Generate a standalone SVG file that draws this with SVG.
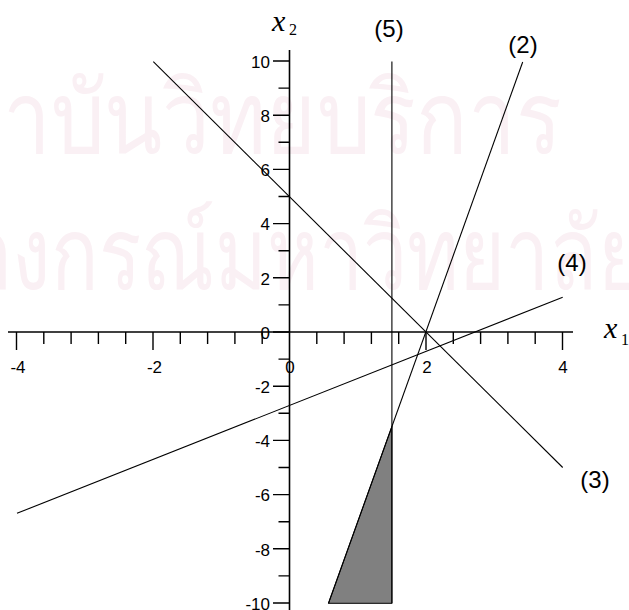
<svg xmlns="http://www.w3.org/2000/svg" width="629" height="610" viewBox="0 0 629 610">
<style>
.wm{font-family:"Noto Sans","DejaVu Sans",sans-serif;font-size:100px;fill:#faf0f4}
.ax{stroke:#000;stroke-width:1.6;fill:none}
.tk{stroke:#000;stroke-width:1.4;fill:none}
.ln{stroke:#000;stroke-width:1.1;fill:none}
.num{font-family:"Liberation Sans",Arial,sans-serif;font-size:17px;fill:#000}
.yl{text-anchor:end}
.xl{text-anchor:middle}
.cl{font-family:"Liberation Sans",Arial,sans-serif;font-size:24px;fill:#000;text-anchor:middle}
.var{font-family:"Liberation Serif","Times New Roman",serif;font-style:italic;font-size:30px;fill:#000}
.sub{font-family:"Liberation Serif","Times New Roman",serif;font-size:16px;fill:#000}
</style>
<rect width="629" height="610" fill="#fff"/>
<g id="watermark">
<text class="wm" x="-101" y="153" textLength="663" lengthAdjust="spacingAndGlyphs">สถาบันวิทยบริการ</text>
<text class="wm" x="-180" y="289" textLength="824" lengthAdjust="spacingAndGlyphs">จุฬาลงกรณ์มหาวิทยาลัย</text>
</g>
<g id="region">
<polygon points="391.9,426.5 391.9,603.3 328.5,603.3" fill="#808080" stroke="#000" stroke-width="1"/>
</g>
<g id="axes">
<line class="ax" x1="8" y1="332" x2="573" y2="332"/>
<line class="ax" x1="289.5" y1="50" x2="289.5" y2="612"/>
<path class="tk" d="M16.5,332V350M43.8,332V344M71.1,332V344M98.4,332V344M125.7,332V344M153,332V350M180.3,332V344M207.6,332V344M234.9,332V344M262.2,332V344M316.8,332V344M344.1,332V344M371.4,332V344M398.7,332V344M426,332V350M453.3,332V344M480.6,332V344M507.9,332V344M535.2,332V344M562.5,332V350"/>
<path class="tk" d="M273,61H289.5M278.5,88.1H289.5M273,115.2H289.5M278.5,142.3H289.5M273,169.4H289.5M278.5,196.5H289.5M273,223.6H289.5M278.5,250.7H289.5M273,277.8H289.5M278.5,304.9H289.5M273,332H289.5M278.5,359.1H289.5M273,386.2H289.5M278.5,413.3H289.5M273,440.4H289.5M278.5,467.5H289.5M273,494.6H289.5M278.5,521.7H289.5M273,548.8H289.5M278.5,575.9H289.5M273,603H289.5"/>
<g class="num yl">
<text x="270" y="67.5">10</text>
<text x="270" y="121.5">8</text>
<text x="270" y="176">6</text>
<text x="270" y="230">4</text>
<text x="270" y="284.5">2</text>
<text x="270" y="338.5">0</text>
<text x="270" y="392.5">-2</text>
<text x="270" y="447">-4</text>
<text x="270" y="501">-6</text>
<text x="270" y="555.5">-8</text>
<text x="270" y="609.5">-10</text>
</g>
<g class="num xl">
<text x="18" y="373">-4</text>
<text x="154.5" y="373">-2</text>
<text x="290" y="373">0</text>
<text x="427" y="373">2</text>
<text x="563" y="373">4</text>
</g>
<text class="var" x="604" y="338">x</text><text class="sub" x="621" y="345">1</text>
<text class="var" x="272" y="31">x</text><text class="sub" x="289" y="35">2</text>
</g>
<g id="connectors">
<line id="c2" class="ln" x1="522.7" y1="62" x2="328.4" y2="603.5"/>
<line id="c3" class="ln" x1="153.3" y1="61.7" x2="562.7" y2="467.5"/>
<line id="c4" class="ln" x1="17" y1="513.3" x2="562.7" y2="297.3"/>
<line id="c5" class="ln" x1="391.9" y1="61.5" x2="391.9" y2="603.5"/>
</g>
<g id="labels">
<g id="l5"><text class="cl" x="389" y="37">(5)</text></g>
<g id="l2"><text class="cl" x="523" y="53">(2)</text></g>
<g id="l4"><text class="cl" x="572" y="271">(4)</text></g>
<g id="l3"><text class="cl" x="595" y="488">(3)</text></g>
</g>
</svg>
